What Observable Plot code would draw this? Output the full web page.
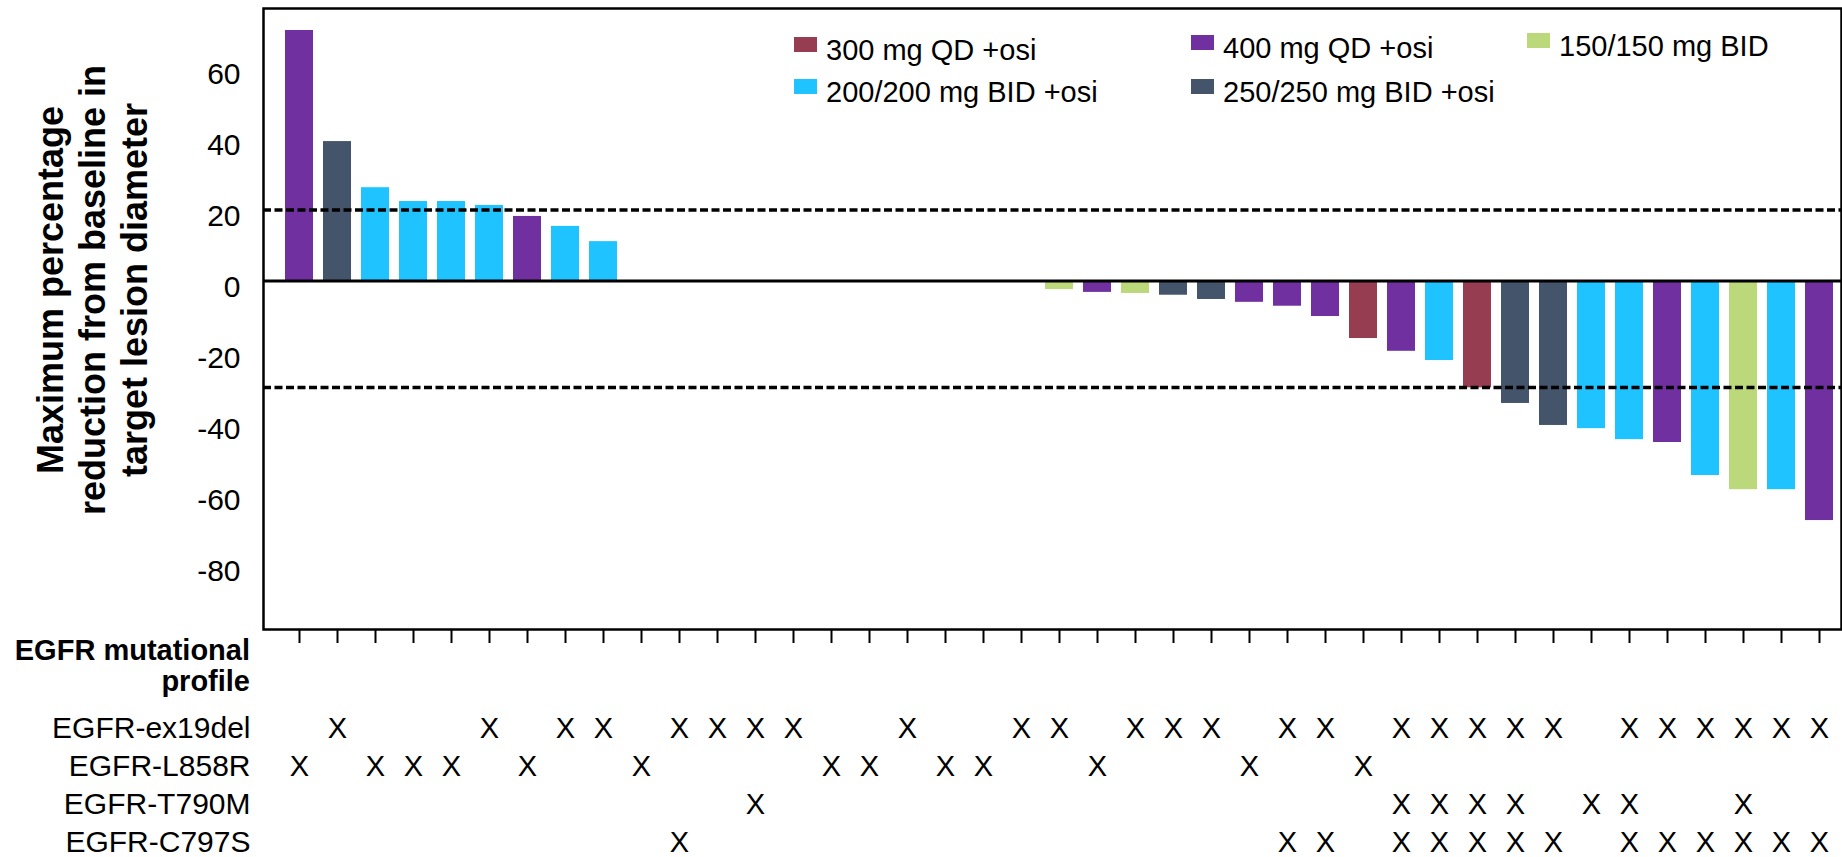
<!DOCTYPE html>
<html>
<head>
<meta charset="utf-8">
<script src="https://cdn.jsdelivr.net/npm/d3@7"></script>
<script src="https://cdn.jsdelivr.net/npm/@observablehq/plot@0.6"></script>
<style>
  html, body { margin: 0; padding: 0; background: #fff; }
  #wrap { position: relative; width: 1842px; height: 857px; overflow: hidden;
          font-family: "Liberation Sans", Arial, sans-serif; color: #000; }
  #wrap svg { position: absolute; left: 0; }
  .abs { position: absolute; white-space: nowrap; }
</style>
</head>
<body>
<div id="wrap"></div>
<script>
// ---------------- data ----------------
const patients = [1,2,3,4,5,6,7,8,9,10,11,12,13,14,15,16,17,18,19,20,21,22,23,24,25,26,27,28,29,30,31,32,33,34,35,36,37,38,39,40,41];

// maximum percentage change from baseline (null = no bar drawn)
const changes = [70.6, 39.3, 26.3, 22.4, 22.4, 21.3, 18.2, 15.4, 11.1,
  null, null, null, null, null, null, null, null, null, null, null,
  -2.4, -3.2, -3.5, -4.0, -5.2, -6.0, -7.1, -10.0, -16.2, -19.8, -22.4,
  -30.1, -34.5, -40.7, -41.6, -44.7, -45.5, -54.8, -58.8, -58.8, -67.5];

const doseLabels = ["300 mg QD +osi", "400 mg QD +osi", "150/150 mg BID", "200/200 mg BID +osi", "250/250 mg BID +osi"];
const doseColors = ["#973D51", "#7030A0", "#BBD97A", "#1FC3FF", "#44546A"];

const doses = ["400 mg QD +osi", "250/250 mg BID +osi", "200/200 mg BID +osi", "200/200 mg BID +osi",
  "200/200 mg BID +osi", "200/200 mg BID +osi", "400 mg QD +osi", "200/200 mg BID +osi", "200/200 mg BID +osi",
  null, null, null, null, null, null, null, null, null, null, null,
  "150/150 mg BID", "400 mg QD +osi", "150/150 mg BID", "250/250 mg BID +osi", "250/250 mg BID +osi",
  "400 mg QD +osi", "400 mg QD +osi", "400 mg QD +osi", "300 mg QD +osi", "400 mg QD +osi",
  "200/200 mg BID +osi", "300 mg QD +osi", "250/250 mg BID +osi", "250/250 mg BID +osi", "200/200 mg BID +osi",
  "200/200 mg BID +osi", "400 mg QD +osi", "200/200 mg BID +osi", "150/150 mg BID", "200/200 mg BID +osi",
  "400 mg QD +osi"];

const thresholds = [20, -30];
const yTicks = [-80, -60, -40, -20, 0, 20, 40, 60];

const mutationRows = ["EGFR-ex19del", "EGFR-L858R", "EGFR-T790M", "EGFR-C797S"];
const ex19del = [2,6,8,9,11,12,13,14,17,20,21,23,24,25,27,28,30,31,32,33,34,36,37,38,39,40,41];
const L858R   = [1,3,4,5,7,10,15,16,18,19,22,26,29];
const T790M   = [13,30,31,32,33,35,36,39];
const C797S   = [11,27,28,30,31,32,33,34,36,37,38,39,40,41];

const yTitle = ["Maximum percentage", "reduction from baseline in", "target lesion diameter"];
const profileTitle = ["EGFR mutational", "profile"];

// ---------------- tables built from the arrays ----------------
const bars = patients.map((p, i) => ({patient: p, change: changes[i], dose: doses[i]}))
  .filter(d => d.change != null);
const marks = [];
[ex19del, L858R, T790M, C797S].forEach((list, r) =>
  list.forEach(p => marks.push({patient: p, mutation: mutationRows[r]})));

// ---------------- layout ----------------
const W = 1842;
const font = '"Liberation Sans", Arial, sans-serif';
const xScale = {type: "band", domain: patients, insetLeft: 16.5, insetRight: 1.5,
                paddingInner: 0.26, paddingOuter: 0.13};

const wrap = document.getElementById("wrap");

const chart = Plot.plot({
  width: W, height: 644,
  marginLeft: 263, marginRight: 1, marginTop: 8, marginBottom: 15,
  style: {fontFamily: font, fontSize: "30px", color: "#000", background: "transparent", overflow: "visible"},
  x: xScale,
  y: {domain: [-98.2, 76.8]},
  color: {domain: doseLabels, range: doseColors},
  marks: [
    Plot.barY(bars, {x: "patient", y: "change", fill: "dose"}),
    Plot.ruleY(thresholds, {stroke: "#000", strokeWidth: 3.5, strokeDasharray: "8,3.5"}),
    Plot.ruleY([0], {stroke: "#000", strokeWidth: 3}),
    Plot.frame({stroke: "#000", strokeWidth: 2.5}),
    Plot.axisX({tickSize: 14, strokeWidth: 2, tickFormat: () => "", label: null}),
    Plot.axisY({ticks: yTicks, tickSize: 0, tickPadding: 23, fontSize: 30, dy: 6,
                tickFormat: d => String(d), label: null})
  ]
});
chart.style.top = "0px";
wrap.appendChild(chart);

const matrix = Plot.plot({
  width: W, height: 213,
  marginLeft: 263, marginRight: 1, marginTop: 84, marginBottom: 15,
  style: {fontFamily: font, fontSize: "30px", color: "#000", background: "transparent", overflow: "visible"},
  x: {...xScale, axis: null},
  y: {type: "point", domain: mutationRows, padding: 0},
  marks: [
    Plot.axisY({tickSize: 0, tickPadding: 13, fontSize: 30, label: null}),
    Plot.text(marks, {x: "patient", y: "mutation", text: () => "X", fontSize: 29, fill: "#000"})
  ]
});
matrix.style.top = "644px";
wrap.appendChild(matrix);

// y-axis title (rotated, 3 lines)
const yt = document.createElement("div");
yt.className = "abs";
yt.style.cssText += "left:93px;top:290px;transform:translate(-50%,-50%) rotate(-90deg);" +
  "font-weight:bold;font-size:36px;line-height:42px;text-align:center;";
yt.innerHTML = yTitle.join("<br>");
wrap.appendChild(yt);

// mutational profile header
const ph = document.createElement("div");
ph.className = "abs";
ph.style.cssText += "right:" + (W - 250) + "px;top:635px;font-weight:bold;font-size:29px;line-height:31px;text-align:right;";
ph.innerHTML = profileTitle.join("<br>");
wrap.appendChild(ph);

// legend (inside the frame)
const legendSlots = [
  {left: 794, yc: 50}, {left: 1191, yc: 48}, {left: 1527, yc: 46},
  {left: 794, yc: 92}, {left: 1191, yc: 92}
];
doseLabels.forEach((lab, i) => {
  const s = legendSlots[i];
  const sw = document.createElement("div");
  sw.className = "abs";
  sw.style.cssText += `left:${s.left}px;top:${s.yc - 13}px;width:23px;height:15px;background:${doseColors[i]};`;
  wrap.appendChild(sw);
  const tx = document.createElement("div");
  tx.className = "abs";
  tx.style.cssText += `left:${s.left + 32}px;top:${s.yc - 17}px;font-size:29px;line-height:34px;`;
  tx.textContent = lab;
  wrap.appendChild(tx);
});
</script>
</body>
</html>
